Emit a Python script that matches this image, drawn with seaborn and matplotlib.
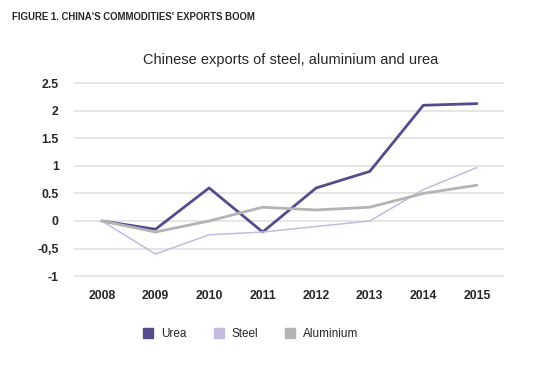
import matplotlib.pyplot as plt
import pandas as pd
import seaborn as sns

years = ["2008", "2009", "2010", "2011", "2012", "2013", "2014", "2015"]
urea = [0, -0.15, 0.6, -0.2, 0.6, 0.9, 2.1, 2.13]
steel = [0, -0.6, -0.25, -0.2, -0.1, 0, 0.57, 0.97]
aluminium = [0, -0.2, 0, 0.25, 0.2, 0.25, 0.5, 0.65]
series_names = ["Urea", "Steel", "Aluminium"]
y_ticks = [-1, -0.5, 0, 0.5, 1, 1.5, 2, 2.5]
y_tick_labels = ["-1", "-0,5", "0", "0.5", "1", "1.5", "2", "2.5"]

colors = {"Urea": "#544c8c", "Steel": "#c4bade", "Aluminium": "#b4b4b4"}
widths = {"Urea": 2.0, "Steel": 1.1, "Aluminium": 2.0}

frame = pd.DataFrame(
    {
        "year": years * 3,
        "value": urea + steel + aluminium,
        "series": [name for name in series_names for _ in years],
    }
)
frame["pos"] = frame["year"].map({y: i for i, y in enumerate(years)})

sns.set_style("white")
plt.rcParams["font.family"] = ["Liberation Sans", "DejaVu Sans"]

figure = plt.figure(figsize=(5.33, 3.67), dpi=100)
axis = figure.add_axes([0.139, 0.2327, 0.807, 0.548])

for name in series_names:
    sub = frame[frame["series"] == name]
    sns.lineplot(
        data=sub, x="pos", y="value", color=colors[name],
        linewidth=widths[name], ax=axis, label=name, zorder=3,
    )

axis.set_xlim(-0.52, 7.51)
axis.set_ylim(-1.1, 2.55)
axis.set_xticks(range(len(years)))
axis.set_xticklabels(years, fontweight="bold", fontsize=8.8)
axis.set_yticks(y_ticks)
axis.set_yticklabels(y_tick_labels, fontweight="bold", fontsize=8.8)
axis.tick_params(axis="y", length=0, pad=11)
axis.tick_params(axis="x", length=0, pad=6)
axis.grid(axis="y", color="#e2e2e2", linewidth=1.2, zorder=0)
axis.set_xlabel("")
axis.set_ylabel("")
for spine in axis.spines.values():
    spine.set_visible(False)

axis.get_legend().remove()
handles = [
    plt.Line2D([], [], marker="s", linestyle="", markersize=7,
               markerfacecolor=colors[n], markeredgecolor=colors[n])
    for n in series_names
]
figure.legend(
    handles, series_names, loc="center", bbox_to_anchor=(0.47, 0.09),
    ncol=3, frameon=False, fontsize=8.5, handletextpad=0.6,
    columnspacing=2.2, handlelength=1.0,
)

figure.text(0.545, 0.837, "Chinese exports of steel, aluminium and urea",
            ha="center", va="center", fontsize=10.5)
figure.text(0.022, 0.953, "FIGURE 1. CHINA'S COMMODITIES' EXPORTS BOOM",
            ha="left", va="center", fontsize=6.9, fontweight="bold")

figure.savefig("out.png", dpi=100)
plt.close(figure)
